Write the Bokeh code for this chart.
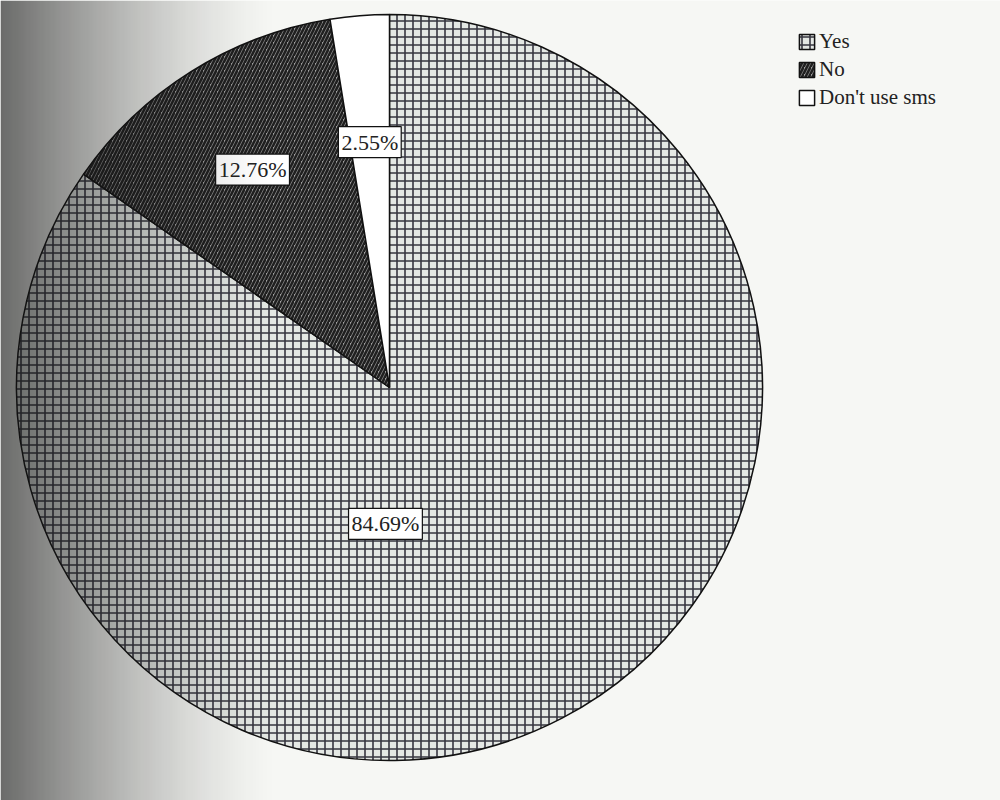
import numpy as np
from bokeh.plotting import figure
from bokeh.models import ColumnDataSource, Range1d, Legend, LegendItem
from bokeh.core.properties import value
from bokeh.embed import file_html
from bokeh.resources import INLINE

# ---- data ----
categories = ["Yes", "No", "Don't use sms"]
percents = [84.69, 12.76, 2.55]
labels = ["84.69%", "12.76%", "2.55%"]

# ---- styling / layout ----
fill_colors = ["#e4e8e4", "#a0a0a0", "#ffffff"]
hatch_patterns = ["+", "/", " "]
hatch_colors = ["#363640", "#202020", "#ffffff"]
hatch_scales = [8, 7, 7]
hatch_weights = [1.6, 2.6, 1]
CX, CY, R = 389, 413, 373
label_r = [0.366, 0.69, 0.66]
label_angle_override = [np.deg2rad(-91.7), None, None]

vals = np.array(percents) / sum(percents)
ends = np.pi / 2 - 2 * np.pi * np.cumsum(vals)
starts = np.concatenate([[np.pi / 2], ends[:-1]])
mids = (starts + ends) / 2

lx, ly = [], []
for i in range(len(categories)):
    a = label_angle_override[i] if label_angle_override[i] is not None else mids[i]
    lx.append(CX + label_r[i] * R * np.cos(a))
    ly.append(CY + label_r[i] * R * np.sin(a))

src = ColumnDataSource(dict(lab=labels, lx=lx, ly=ly))

p = figure(width=1000, height=800, output_backend="svg", toolbar_location=None,
           x_range=Range1d(0, 1000), y_range=Range1d(0, 800), min_border=0,
           background_fill_color="#f6f7f4", border_fill_color="#f6f7f4")
p.axis.visible = False
p.grid.visible = False
p.outline_line_color = None

rends = []
for i in range(len(categories)):
    r = p.wedge(x=CX, y=CY, radius=R, start_angle=starts[i], end_angle=ends[i],
                direction="clock", fill_color=fill_colors[i],
                hatch_pattern=hatch_patterns[i], hatch_color=hatch_colors[i],
                hatch_scale=hatch_scales[i], hatch_weight=hatch_weights[i],
                line_color="#111111", line_width=1.5)
    rends.append(r)

p.text(x="lx", y="ly", text="lab", source=src, text_align="center",
       text_baseline="middle", text_font=value("Liberation Serif"),
       text_font_size="22px", text_color="#222222",
       background_fill_color="#ffffff", border_line_color="#111111",
       border_line_width=1.2, padding=3)

# darkening gradient on left (scan shading)
N = 256
img = np.zeros((1, N), dtype=np.uint32)
view = img.view(dtype=np.uint8).reshape((1, N, 4))
t = np.linspace(0, 1, N)
alpha = 0.62 * (1 - t) ** 1.4
view[0, :, 0] = 20
view[0, :, 1] = 20
view[0, :, 2] = 20
view[0, :, 3] = (alpha * 255).astype(np.uint8)
p.image_rgba(image=[img], x=0, y=0, dw=280, dh=800)

legend = Legend(items=[LegendItem(label=categories[i], renderers=[rends[i]]) for i in range(3)],
                location=(797, 690), glyph_width=19, glyph_height=19,
                label_height=19, spacing=3, padding=0, margin=0,
                label_standoff=3, label_text_font="Liberation Serif",
                label_text_font_size="21px", label_text_color="#222222",
                background_fill_alpha=0, border_line_color=None)
p.add_layout(legend)

open("out.html", "w").write(file_html(p, INLINE))
